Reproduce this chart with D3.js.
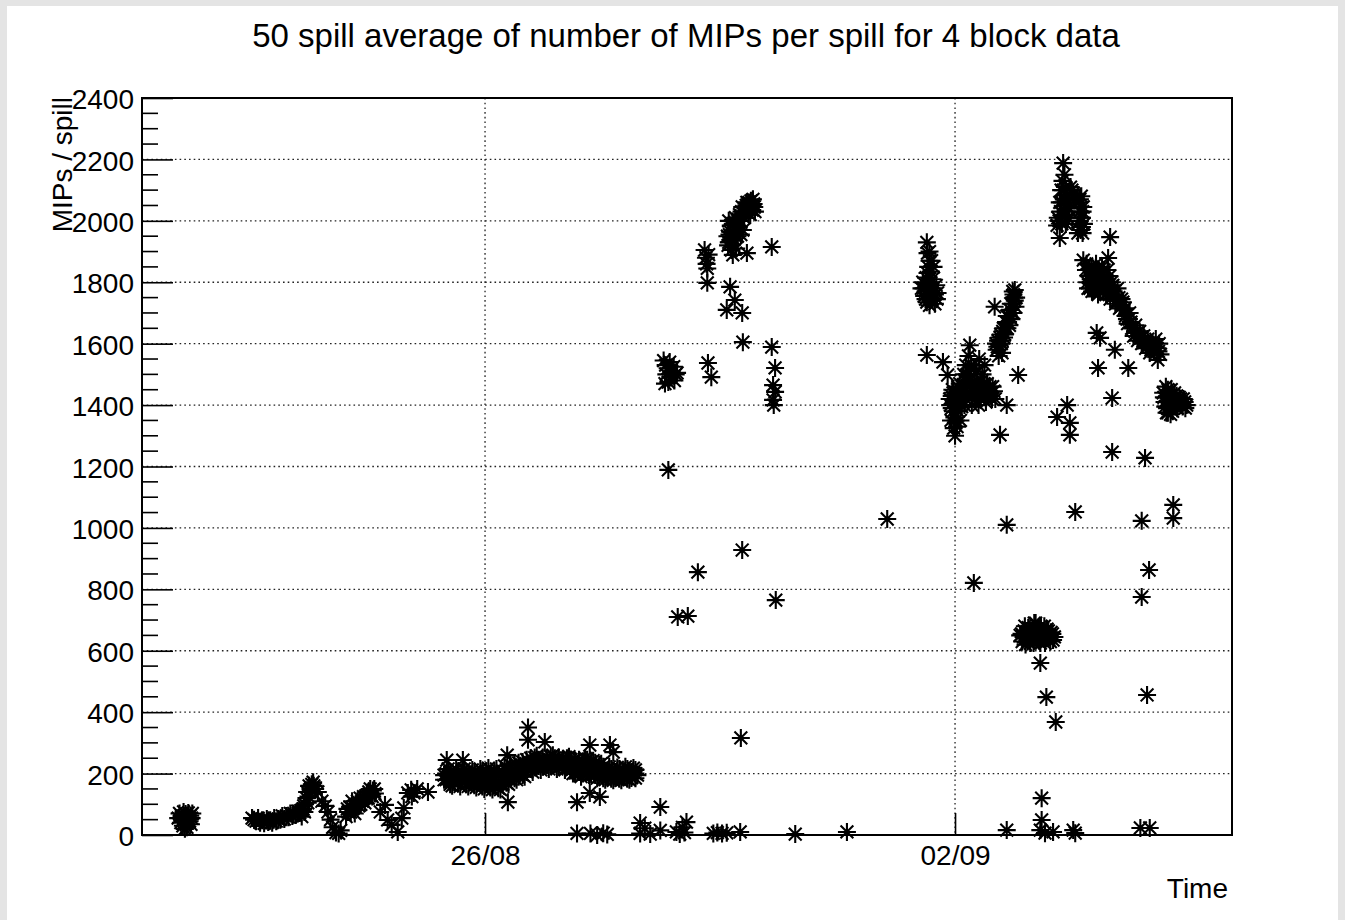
<!DOCTYPE html>
<html>
<head>
<meta charset="utf-8">
<script src="https://cdn.jsdelivr.net/npm/d3@7"></script>
<style>
  html, body { margin: 0; padding: 0; background: #e4e4e4; }
  svg { display: block; }
  text { font-family: "Liberation Sans", Arial, Helvetica, sans-serif; fill: #000; }
</style>
</head>
<body>
<svg id="chart" width="1345" height="920"></svg>
<script>
// ---------------- DATA ----------------
// time = days since 20/08 00:00 (UTC), value = MIPs / spill (50 spill average)
const title = "50 spill average of number of MIPs per spill for 4 block data";
const yTitle = "MIPs / spill";
const xTitle = "Time";
const yMajorTicks = [0, 200, 400, 600, 800, 1000, 1200, 1400, 1600, 1800, 2000, 2200, 2400];
const xTickDays = [6, 13];            // 26/08 and 02/09
const xDomainDays = [0.891, 17.125];

const run21Aug = [[1.43,55],[1.45,70],[1.47,40],[1.48,62],[1.50,30],[1.51,75],[1.52,50],[1.54,68],[1.55,38],[1.56,25],[1.57,58],[1.58,72],[1.60,45],[1.61,63],[1.62,35],[1.63,55],[1.64,70],[1.53,20],[1.49,48],[1.59,52]];

const run22to25Aug = [
  [2.53,55],[2.59,45],[2.62,55],[2.65,40],[2.71,38],[2.75,52],[2.77,42],[2.83,40],[2.86,55],[2.89,45],[2.95,50],[2.98,62],[3.01,52],[3.07,58],[3.10,70],[3.13,62],[3.18,65],[3.21,78],[3.24,72],[3.27,60],[3.29,85],[3.31,75],[3.32,100],[3.34,120],[3.36,105],[3.35,140],[3.38,160],[3.40,150],[3.42,165],[3.44,172],[3.47,150],[3.51,140],
  [2.56,50],[2.68,48],[2.80,48],[2.92,52],[3.04,62],[3.15,70],[3.26,80],[3.30,95],[3.37,125],[3.39,140],[3.45,160],
  [3.57,110],[3.62,95],[3.66,75],[3.70,50],[3.73,25],[3.78,8],[3.82,5],[3.85,15],
  [3.93,60],[3.96,75],[3.99,90],[4.02,110],[4.03,85],[4.06,70],[4.08,100],[4.12,95],[4.14,120],[4.17,110],[4.19,125],[4.21,105],[4.26,120],[4.29,150],[4.30,130],[4.33,145],[4.36,135],
  [3.95,85],[4.00,75],[4.05,95],[4.10,110],[4.15,100],[4.20,120],[4.24,130],[4.27,140],[4.32,125],[4.35,150],
  [4.44,75],[4.51,98],[4.55,49],[4.61,33],[4.70,10],[4.76,55],[4.79,88],
  [4.85,137],[4.90,147],[4.91,125],[4.94,137],[4.99,150],[5.15,140]
];

const run25to28Aug = [
  [5.39,180],[5.39,195],[5.42,180],[5.42,200],[5.48,165],[5.48,185],[5.48,205],[5.54,172],[5.54,195],[5.60,168],[5.60,190],[5.60,208],
  [5.66,178],[5.66,200],[5.72,165],[5.72,185],[5.72,205],[5.78,172],[5.78,198],[5.84,162],[5.84,182],[5.84,205],[5.90,170],[5.90,195],
  [5.96,158],[5.96,180],[5.96,205],[6.02,165],[6.02,190],[6.02,208],[6.08,155],[6.08,178],[6.08,200],[6.14,162],[6.14,188],[6.14,206],
  [6.20,152],[6.20,175],[6.20,198],[6.26,165],[6.26,190],[6.26,208],[6.32,170],[6.32,195],[6.32,215],[6.38,182],[6.38,205],[6.38,228],
  [6.44,185],[6.44,210],[6.44,232],[6.50,190],[6.50,215],[6.50,235],[6.56,195],[6.56,220],[6.56,238],[6.62,205],[6.62,228],[6.62,245],
  [6.68,215],[6.68,235],[6.68,250],[6.74,222],[6.74,240],[6.74,252],[6.80,225],[6.80,245],[6.86,222],[6.86,238],[6.86,252],[6.92,228],[6.92,248],
  [6.98,225],[6.98,242],[6.98,254],[7.04,230],[7.04,250],[7.10,224],[7.10,240],[7.10,252],[7.16,228],[7.16,248],[7.22,222],[7.22,238],[7.22,250],
  [7.28,210],[7.28,230],[7.28,246],[7.34,202],[7.34,222],[7.34,242],[7.40,205],[7.40,225],[7.40,245],[7.46,200],[7.46,220],[7.46,240],
  [7.52,205],[7.52,228],[7.52,245],[7.58,198],[7.58,218],[7.58,238],[7.64,195],[7.64,215],[7.64,235],[7.70,190],[7.70,208],[7.70,228],
  [7.76,185],[7.76,205],[7.76,222],[7.82,188],[7.82,210],[7.88,183],[7.88,200],[7.88,215],[7.94,186],[7.94,205],[8.00,183],[8.00,200],[8.00,215],
  [8.06,188],[8.06,208],[8.12,183],[8.12,200],[8.12,215],[8.18,186],[8.18,205],[8.24,185],[8.24,200],[8.24,212],
  [5.45,215],[5.57,212],[5.69,215],[5.81,212],[5.93,215],[6.05,218],[6.17,215],[6.29,225],[5.51,160],[5.63,158],[5.75,158],[5.87,155],[5.99,150],[6.11,148],[6.23,148],[6.35,165],
  [6.47,180],[6.59,190],[6.71,205],[6.83,212],[6.95,215],[7.07,215],[7.19,212],[7.31,200],[6.77,258],[7.01,260],[7.25,255],
  [7.43,190],[7.55,195],[7.67,185],[7.79,180],[7.91,178],[8.03,178],[8.15,180],[8.27,195],[7.49,250],[7.61,242],[7.73,232],[7.85,222],[7.97,220],[8.09,222],[8.21,218],
  [5.43,244],[5.67,244],[6.34,107],[6.33,260],[6.64,350],[6.64,310],[6.89,303],[7.56,293],[7.86,293],[7.91,270],[7.37,107],[7.56,137],[7.71,124],[8.61,91]
];

const lowValues = [[7.37,5],[7.57,5],[7.67,0],[7.76,6],[7.82,2],[8.31,5],[8.38,22],[8.46,3],[8.31,39],[8.61,15],[8.85,10],[8.90,3],[8.94,25],[9.00,42],[8.97,8],[9.40,5],[9.46,8],[9.53,5],[9.60,7],[9.80,10],[10.62,3],[11.39,10],
  [13.77,16],[14.27,16],[14.34,6],[14.46,10],[14.76,16],[14.79,6],[15.76,23],[15.90,23],[14.29,120],[14.29,49]];

const run28to31Aug = [
  [8.66,1545],[8.68,1470],[8.69,1530],[8.70,1500],[8.72,1520],[8.73,1475],[8.75,1540],[8.76,1490],[8.78,1510],[8.81,1525],[8.82,1480],[8.84,1500],[8.86,1505],
  [8.73,1189],[9.32,1537],[9.37,1491],
  [9.27,1905],[9.29,1880],[9.30,1860],[9.33,1890],[9.31,1845],[9.31,1798],
  [9.17,856],[8.87,710],[9.02,713],
  [9.62,1920],[9.64,1955],[9.66,1985],[9.63,2000],[9.68,1935],[9.70,1965],[9.72,1995],[9.74,1910],[9.76,1950],[9.78,1980],[9.67,1905],[9.73,2010],
  [9.80,2000],[9.82,2030],[9.84,1970],[9.86,2010],[9.81,1955],
  [9.88,2040],[9.90,2060],[9.92,2025],[9.94,2050],[9.96,2065],[9.98,2035],[10.00,2055],[10.02,2030],[9.95,2020],
  [9.61,1950],[9.63,1930],[9.65,1965],[9.67,1945],[9.69,1990],[9.71,1940],[9.75,1985],[9.77,2005],[9.79,2020],[9.83,2045],[9.85,2025],[9.89,2050],[9.91,2040],[9.93,2060],[9.97,2050],[9.99,2070],[10.01,2045],
  [9.69,1889],[9.90,1895],[10.27,1915],
  [9.65,1785],[9.72,1742],[9.60,1710],[9.83,1700],[9.84,1605],[10.27,1589],[10.32,1521],[10.29,1465],[10.32,1443],[10.29,1417],[10.30,1400],
  [9.83,928],[10.33,765],[9.81,316],[11.99,1029]
];

const run01to03Sep = [
  [12.50,1780],[12.52,1800],[12.54,1755],[12.57,1815],[12.58,1930],[12.58,1735],[12.59,1895],[12.60,1850],[12.61,1790],[12.62,1870],[12.62,1725],[12.64,1835],[12.66,1810],[12.66,1745],[12.68,1850],[12.70,1730],[12.72,1790],[12.74,1765],[12.56,1770],[12.64,1760],
  [12.53,1780],[12.60,1760],[12.63,1800],[12.67,1780],[12.70,1760],[12.59,1830],[12.62,1900],[12.56,1745],[12.73,1745],[12.65,1870],
  [12.58,1563],[12.82,1540],[12.89,1498],
  [12.92,1420],[12.94,1350],[12.95,1390],[12.96,1450],[12.97,1440],[12.98,1325],[12.99,1360],[13.00,1300],[13.01,1410],[13.02,1440],[13.03,1330],[13.04,1460],[13.05,1380],[13.06,1420],[13.07,1470],[13.08,1350],[13.10,1395],
  [13.12,1440],[13.14,1400],[13.15,1480],[13.18,1500],[13.20,1560],[13.22,1595],[13.22,1440],[13.24,1530],[13.25,1400],[13.26,1470],[13.30,1420],[13.32,1510],[13.34,1450],[13.35,1400],[13.36,1550],[13.38,1420],[13.40,1480],[13.42,1440],[13.44,1530],[13.46,1410],[13.48,1470],[13.50,1430],[13.52,1460],[13.55,1420],[13.58,1445],
  [12.93,1400],[12.95,1430],[12.97,1380],[12.99,1420],[13.01,1350],[13.03,1400],[13.05,1440],[13.07,1410],[13.09,1430],[13.11,1460],[13.13,1500],[13.16,1530],[13.17,1430],[13.19,1460],[13.21,1510],[13.23,1480],[13.27,1440],[13.28,1520],[13.29,1460],[13.31,1440],[13.33,1480],[13.37,1460],[13.39,1440],[13.41,1500],[13.43,1470],[13.45,1450],[13.47,1430],[13.49,1450],[13.53,1440],[13.56,1460],[13.60,1420],
  [13.59,1720],[13.62,1580],[13.64,1610],[13.65,1560],[13.66,1595],[13.68,1630],[13.70,1610],[13.70,1570],[13.72,1650],[13.74,1630],[13.76,1670],[13.78,1650],[13.80,1690],[13.82,1710],[13.84,1680],[13.86,1730],[13.87,1700],[13.88,1750],[13.89,1775],[13.90,1720],
  [13.61,1600],[13.63,1590],[13.67,1620],[13.69,1600],[13.71,1640],[13.73,1620],[13.75,1650],[13.77,1690],[13.79,1670],[13.81,1660],[13.83,1730],[13.85,1700],[13.87,1760],[13.89,1740],[13.91,1750],[13.86,1770],
  [13.94,1498],[13.77,1400],[13.67,1303],[13.77,1010],[13.28,821],
  [13.97,650],[14.00,630],[14.03,665],[14.05,620],[14.06,640],[14.09,675],[14.10,650],[14.12,625],[14.15,655],[14.18,690],[14.21,640],[14.24,670],[14.26,650],[14.27,625],[14.30,655],[14.33,680],[14.35,660],[14.36,640],[14.39,665],[14.42,630],[14.45,655],[14.48,645],
  [13.99,655],[14.02,645],[14.04,680],[14.08,630],[14.11,665],[14.14,640],[14.17,625],[14.19,665],[14.22,655],[14.25,635],[14.28,680],[14.31,640],[14.34,625],[14.37,670],[14.40,645],[14.43,660],[14.46,635],[14.20,690],
  [14.27,560],[14.36,449],[14.50,368]
];

const run03to06Sep = [
  [14.52,1985],[14.53,2010],[14.55,2000],[14.56,2060],[14.57,2030],[14.58,2100],[14.59,1990],[14.60,2130],[14.61,2188],[14.62,2070],[14.63,2020],[14.64,2110],[14.65,1990],[14.66,2050],[14.67,2085],[14.68,2010],[14.70,2040],
  [14.74,2100],[14.76,2090],[14.78,2085],[14.80,2070],[14.84,2060],[14.85,2000],[14.86,2030],[14.87,1970],[14.88,2080],[14.89,2010],[14.90,1960],[14.91,2045],[14.92,1990],
  [14.57,2000],[14.59,2060],[14.61,2100],[14.63,2150],[14.65,2030],[14.67,2000],[14.69,2060],[14.86,2070],[14.88,2010],[14.90,2030],[14.89,1980],[14.72,2110],
  [14.56,1944],[14.83,1960],[15.31,1947],
  [14.91,1872],[14.95,1840],[14.97,1800],[14.99,1820],[15.01,1780],[15.03,1850],[15.05,1810],[15.07,1775],[15.09,1835],[15.11,1800],[15.13,1760],[15.15,1825],[15.17,1790],[15.19,1850],[15.21,1770],[15.23,1810],[15.25,1760],[15.27,1840],[15.28,1879],[15.29,1790],[15.31,1745],[15.33,1800],[15.36,1760],[15.39,1730],[15.42,1780],[15.45,1715],[15.48,1745],[15.51,1710],
  [14.96,1860],[14.98,1780],[15.00,1840],[15.02,1810],[15.04,1770],[15.06,1845],[15.08,1790],[15.10,1860],[15.12,1780],[15.14,1810],[15.16,1770],[15.18,1800],[15.20,1790],[15.22,1840],[15.24,1790],[15.26,1800],[15.28,1770],[15.30,1820],[15.32,1770],[15.35,1790],[15.38,1760],[15.41,1740],[15.44,1750],[15.47,1720],[15.50,1735],[15.53,1715],
  [15.54,1690],[15.57,1665],[15.60,1700],[15.63,1650],[15.66,1625],[15.69,1660],[15.72,1610],[15.75,1640],[15.78,1600],[15.81,1625],[15.84,1585],[15.87,1615],[15.90,1570],[15.93,1600],[15.96,1575],[15.99,1615],[16.01,1585],[16.04,1600],[16.06,1565],[16.02,1547],
  [15.56,1680],[15.59,1680],[15.62,1670],[15.65,1650],[15.68,1640],[15.71,1635],[15.74,1625],[15.77,1620],[15.80,1610],[15.83,1605],[15.86,1590],[15.89,1600],[15.92,1580],[15.95,1595],[15.98,1590],[16.03,1575],
  [15.11,1635],[15.16,1619],[15.38,1580],[15.13,1521],[15.58,1521],[15.34,1423],
  [16.10,1440],[16.12,1410],[16.14,1460],[16.15,1375],[16.16,1390],[16.18,1430],[16.20,1400],[16.21,1370],[16.22,1450],[16.24,1380],[16.26,1420],[16.28,1395],[16.30,1430],[16.33,1405],[16.36,1420],[16.39,1395],[16.42,1410],[16.45,1400],
  [16.11,1425],[16.13,1395],[16.17,1450],[16.19,1410],[16.23,1420],[16.25,1400],[16.27,1440],[16.29,1410],[16.31,1390],[16.34,1425],[16.37,1400],[16.40,1420],[16.43,1390],[16.17,1375],
  [14.67,1400],[14.52,1361],[14.71,1342],[14.71,1303],[15.34,1247],[15.83,1228],
  [14.79,1052],[15.78,1023],[16.25,1075],[16.25,1032],[15.89,863],[15.78,775],[15.86,456]
];

const allPoints = [].concat(run21Aug, run22to25Aug, run25to28Aug, lowValues, run28to31Aug, run01to03Sep, run03to06Sep);

// ---------------- CHART ----------------
const W = 1345, H = 920;
const frame = { left: 142, right: 1232, top: 98, bottom: 835 };
const base = Date.UTC(2016, 7, 20);
const DAY = 86400000;
const toDate = d => new Date(base + d * DAY);

const svg = d3.select("#chart");
svg.append("rect").attr("x", 7).attr("y", 6).attr("width", 1331).attr("height", H - 6).attr("fill", "#fff");

const x = d3.scaleUtc().domain(xDomainDays.map(toDate)).range([frame.left, frame.right]);
const y = d3.scaleLinear().domain([0, 2400]).range([frame.bottom, frame.top]);

// grid
const grid = svg.append("g").attr("stroke", "#222").attr("stroke-width", 1.3).attr("stroke-dasharray", "1.6,3.1").attr("fill", "none");
grid.selectAll("line.h").data(yMajorTicks.filter(v => v > 0 && v < 2400)).join("line")
  .attr("x1", frame.left).attr("x2", frame.right).attr("y1", d => y(d)).attr("y2", d => y(d));
grid.selectAll("line.v").data(xTickDays).join("line")
  .attr("x1", d => x(toDate(d))).attr("x2", d => x(toDate(d))).attr("y1", frame.top).attr("y2", frame.bottom);

// y axis
const yAxis = d3.axisLeft(y).tickValues(yMajorTicks).tickSize(-31).tickPadding(8).tickFormat(d3.format("d"));
const gy = svg.append("g").attr("transform", `translate(${frame.left},0)`).call(yAxis);
gy.select(".domain").remove();
gy.selectAll(".tick line").attr("stroke", "#000").attr("stroke-width", 1.6);
gy.selectAll(".tick text").attr("font-size", 28).attr("dy", "0.38em")
  .style("font-family", '"Liberation Sans", Arial, Helvetica, sans-serif');

const minor = d3.range(0, 2401, 50).filter(v => v % 200 !== 0);
svg.append("g").selectAll("line").data(minor).join("line")
  .attr("x1", frame.left).attr("x2", frame.left + 16)
  .attr("y1", d => y(d)).attr("y2", d => y(d))
  .attr("stroke", "#000").attr("stroke-width", 1.6);

// x axis
const xAxis = d3.axisBottom(x).tickValues(xTickDays.map(toDate)).tickSize(-22).tickPadding(10).tickFormat(d3.utcFormat("%d/%m"));
const gx = svg.append("g").attr("transform", `translate(0,${frame.bottom})`).call(xAxis);
gx.select(".domain").remove();
gx.selectAll(".tick line").attr("stroke", "#000").attr("stroke-width", 1.6);
gx.selectAll(".tick text").attr("font-size", 28).attr("y", 30).attr("dy", 0)
  .style("font-family", '"Liberation Sans", Arial, Helvetica, sans-serif');

// frame
svg.append("rect").attr("x", frame.left).attr("y", frame.top)
  .attr("width", frame.right - frame.left).attr("height", frame.bottom - frame.top)
  .attr("fill", "none").attr("stroke", "#000").attr("stroke-width", 2);

// markers (ROOT asterisk)
const star = "M-9,0H9M0,-9V9M-6.4,-6.4L6.4,6.4M-6.4,6.4L6.4,-6.4";
svg.append("g").selectAll("path").data(allPoints).join("path")
  .attr("transform", d => `translate(${x(toDate(d[0]))},${y(d[1])})`)
  .attr("d", star).attr("stroke", "#000").attr("stroke-width", 2.1).attr("fill", "none");

// titles
svg.append("text").attr("x", 686).attr("y", 47).attr("text-anchor", "middle").attr("font-size", 33).text(title);
svg.append("text").attr("transform", `translate(72,97) rotate(-90)`).attr("text-anchor", "end").attr("font-size", 28).text(yTitle);
svg.append("text").attr("x", 1228).attr("y", 898).attr("text-anchor", "end").attr("font-size", 28).text(xTitle);
</script>
</body>
</html>
